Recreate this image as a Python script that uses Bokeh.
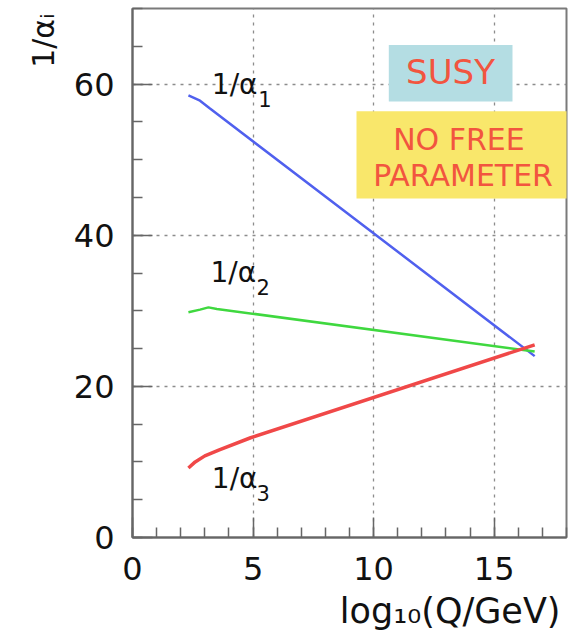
from bokeh.plotting import figure
from bokeh.models import Range1d, FixedTicker, Title
from bokeh.core.properties import value
from bokeh.embed import file_html
from bokeh.resources import INLINE

# Inverse gauge couplings 1/alpha_i versus log10(Q/GeV), supersymmetric running
x_a1 = [2.32, 2.8, 3.2, 16.68]
inv_a1 = [58.5, 57.8, 56.8, 24.0]

x_a2 = [2.32, 2.8, 3.15, 3.5, 16.68]
inv_a2 = [29.8, 30.15, 30.45, 30.25, 24.6]

x_a3 = [2.32, 2.6, 3.0, 3.6, 4.9, 16.68]
inv_a3 = [9.2, 10.0, 10.8, 11.6, 13.2, 25.5]

x_ticks = [0, 5, 10, 15]
x_minor = list(range(0, 19))
y_ticks = [0, 20, 40, 60]
y_minor = list(range(0, 71, 5))

FONT = "DejaVu Sans"
BLUE = "#5060ee"
GREEN = "#3fd83f"
RED = "#f04848"
BOX_RED = "#f2553f"

p = figure(width=576, height=642,
           x_range=Range1d(0, 18), y_range=Range1d(0, 70),
           output_backend="svg", toolbar_location=None,
           min_border_left=132, min_border_right=10,
           min_border_top=8, min_border_bottom=105)
p.background_fill_color = "white"
p.border_fill_color = "white"
p.outline_line_color = "#7a7a7a"
p.outline_line_width = 2

p.xaxis.ticker = FixedTicker(ticks=x_ticks, minor_ticks=x_minor)
p.yaxis.ticker = FixedTicker(ticks=y_ticks, minor_ticks=y_minor)
for ax in (p.xaxis, p.yaxis):
    ax.axis_line_color = "#666666"
    ax.axis_line_width = 2
    ax.major_tick_line_color = "#666666"
    ax.minor_tick_line_color = "#666666"
    ax.major_tick_line_width = 1.5
    ax.minor_tick_line_width = 1.5
    ax.major_tick_in = 20
    ax.major_tick_out = 0
    ax.minor_tick_in = 10
    ax.minor_tick_out = 0
    ax.major_label_text_font = FONT
    ax.major_label_text_font_size = "32px"
    ax.major_label_text_color = "#111111"
p.xaxis.major_label_standoff = 19
p.yaxis.major_label_standoff = 18

p.grid.grid_line_color = "#8c8c8c"
p.grid.grid_line_dash = "3 5"
p.grid.grid_line_width = 1.3

# axis titles, right / top aligned
p.add_layout(Title(text="log₁₀(Q/GeV)", align="right", text_font=FONT,
                   text_font_size="35px", text_font_style="normal",
                   text_color="#111111", standoff=12, offset=6), "below")
p.add_layout(Title(text="1/αᵢ", align="right", text_font=FONT,
                   text_font_size="30px", text_font_style="normal",
                   text_color="#111111", standoff=20, offset=5), "left")

# annotation boxes
p.quad(left=[10.63], right=[15.76], top=[65.17], bottom=[57.71],
       fill_color="#b4dde3", line_color=None)
p.quad(left=[9.29], right=[18.2], top=[56.39], bottom=[44.86],
       fill_color="#f9e76b", line_color=None)

# coupling curves
p.line(x_a1, inv_a1, line_color=BLUE, line_width=2.5)
p.line(x_a2, inv_a2, line_color=GREEN, line_width=2.5)
p.line(x_a3, inv_a3, line_color=RED, line_width=3.5)


def add_text(x, y, text, size, color="#111111", align="left"):
    p.text(x=[x], y=[y], text=[text], text_font=value(FONT),
           text_font_size=f"{size}px", text_color=color,
           text_align=align, text_baseline="alphabetic")


# curve labels
add_text(3.29, 59.9, "1/α", 28)
add_text(5.22, 58.0, "1", 21)
add_text(3.23, 35.1, "1/α", 28)
add_text(5.14, 33.15, "2", 21)
add_text(3.29, 7.85, "1/α", 28)
add_text(5.14, 5.9, "3", 21)

# box texts
add_text(13.19, 61.6, "SUSY", 34, BOX_RED, "center")
add_text(13.54, 52.6, "NO FREE", 30, BOX_RED, "center")
add_text(13.71, 47.9, "PARAMETER", 30, BOX_RED, "center")

open("out.html", "w").write(file_html(p, INLINE))
